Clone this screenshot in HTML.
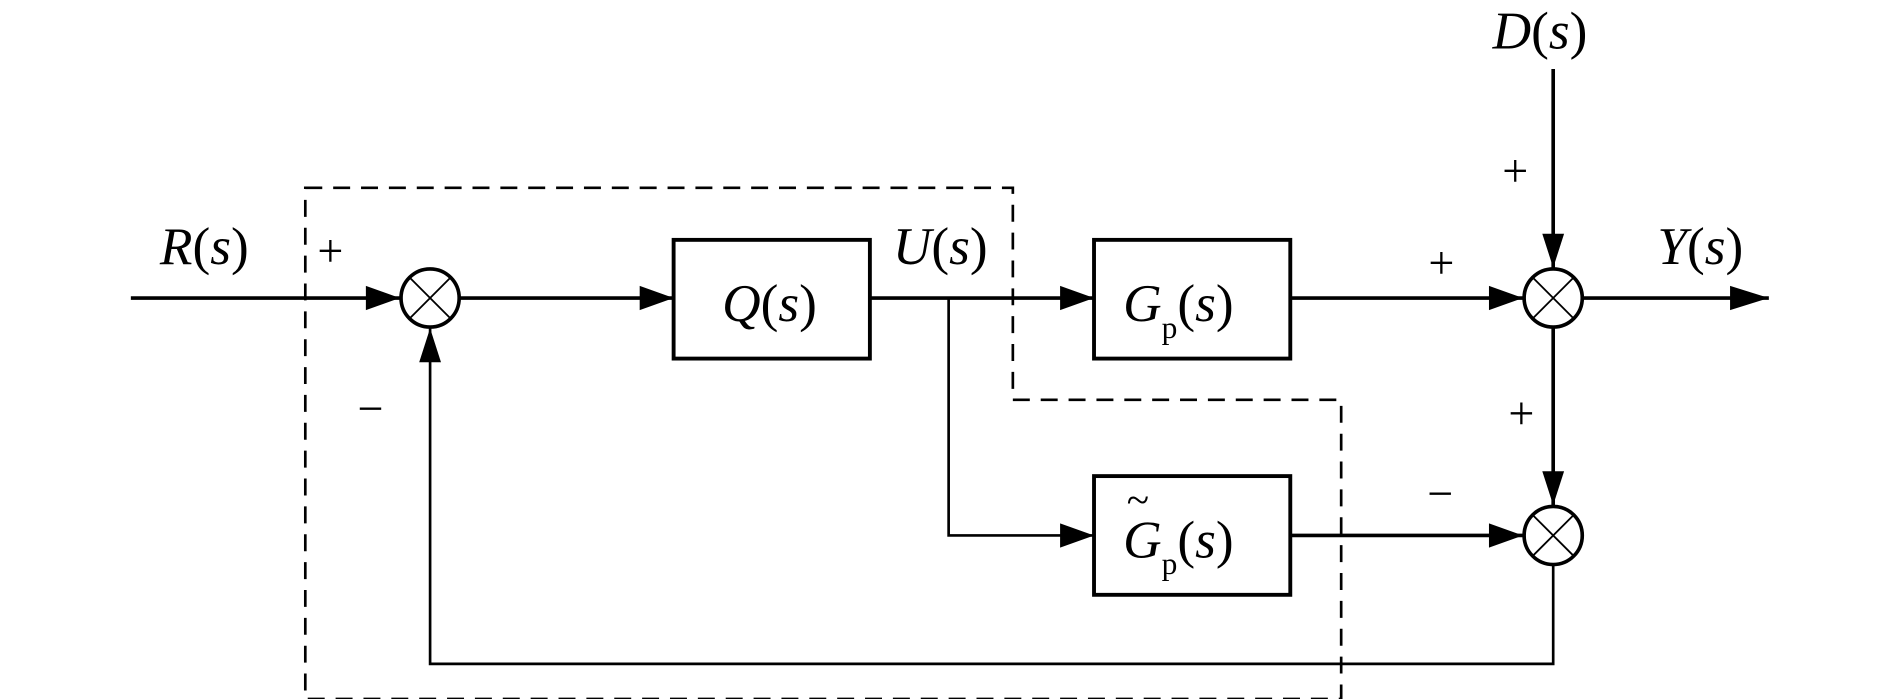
<!DOCTYPE html>
<html><head><meta charset="utf-8"><style>html,body{margin:0;padding:0;background:#fff}svg{display:block}</style></head>
<body>
<svg width="1890" height="699" viewBox="0 0 1560 577" preserveAspectRatio="none" xmlns="http://www.w3.org/2000/svg" font-family="Liberation Serif, serif">
<defs><marker id="a" markerWidth="10" markerHeight="8" refX="10" refY="4" orient="auto" markerUnits="userSpaceOnUse" viewBox="0 0 10 8"><path d="M0,0 L10,4 L0,8z" fill="#000"/></marker></defs>
<g stroke="#000" fill="none">
<g stroke-width="3">
<path d="M108,246 H330" marker-end="url(#A)"/>
<path d="M380,246 H556"/>
<path d="M718,246 H903"/>
<path d="M1065,246 H1257"/>
<path d="M1307,246 H1460"/>
<path d="M1282,57 V221"/>
<path d="M1282,271 V417"/>
<path d="M1065,442 H1257"/>
</g>
<path d="M783,246 V442 H903" stroke-width="2.2"/>
<path d="M1282,467 V548 H355 V271" stroke-width="2.2"/>
<rect x="556" y="198" width="162" height="98" stroke-width="3.2"/>
<rect x="903" y="198" width="162" height="98" stroke-width="3.2"/>
<rect x="903" y="393" width="162" height="98" stroke-width="3.2"/>
<circle cx="355" cy="246" r="24" stroke-width="3"/>
<circle cx="1282" cy="246" r="24" stroke-width="3"/>
<circle cx="1282" cy="442" r="24" stroke-width="3"/>
<g stroke-width="1.5">
<path d="M338,229 L372,263 M372,229 L338,263"/>
<path d="M1265,229 L1299,263 M1299,229 L1265,263"/>
<path d="M1265,425 L1299,459 M1299,425 L1265,459"/>
</g>
<path d="M252,155 H836 V330 H1107 V577 H252 Z" stroke-width="2.2" stroke-dasharray="14,9"/>
</g>
<g fill="#000">
<path d="M330,246 l-28,-10 v20z"/>
<path d="M556,246 l-28,-10 v20z"/>
<path d="M903,246 l-28,-10 v20z"/>
<path d="M903,442 l-28,-10 v20z"/>
<path d="M1257,246 l-28,-10 v20z"/>
<path d="M1257,442 l-28,-10 v20z"/>
<path d="M1460,246 l-32,-10 v20z"/>
<path d="M1282,221 l-9,-28 h18z"/>
<path d="M1282,417 l-9,-28 h18z"/>
<path d="M355,271 l-9,28 h18z"/>
</g>
<g font-size="44" fill="#000">
<text x="132" y="218"><tspan font-style="italic">R</tspan>(<tspan font-style="italic">s</tspan>)</text>
<text x="596" y="265"><tspan font-style="italic">Q</tspan>(<tspan font-style="italic">s</tspan>)</text>
<text x="737" y="218"><tspan font-style="italic">U</tspan>(<tspan font-style="italic">s</tspan>)</text>
<text x="927" y="265"><tspan font-style="italic">G</tspan><tspan font-size="26" dy="14">p</tspan><tspan dy="-14">(</tspan><tspan font-style="italic">s</tspan>)</text>
<text x="927" y="460"><tspan font-style="italic">G</tspan><tspan font-size="26" dy="14">p</tspan><tspan dy="-14">(</tspan><tspan font-style="italic">s</tspan>)</text>
<text x="930" y="424" font-size="34">~</text>
<text x="1232" y="40"><tspan font-style="italic">D</tspan>(<tspan font-style="italic">s</tspan>)</text>
<text x="1368" y="218"><tspan font-style="italic">Y</tspan>(<tspan font-style="italic">s</tspan>)</text>
</g>
<g font-size="38" fill="#000">
<text x="262" y="220">+</text>
<text x="1240" y="154">+</text>
<text x="1179" y="230">+</text>
<text x="1245" y="354">+</text>
<text x="1178" y="420">−</text>
<text x="295" y="350">−</text>
</g>
</svg>
</body></html>
